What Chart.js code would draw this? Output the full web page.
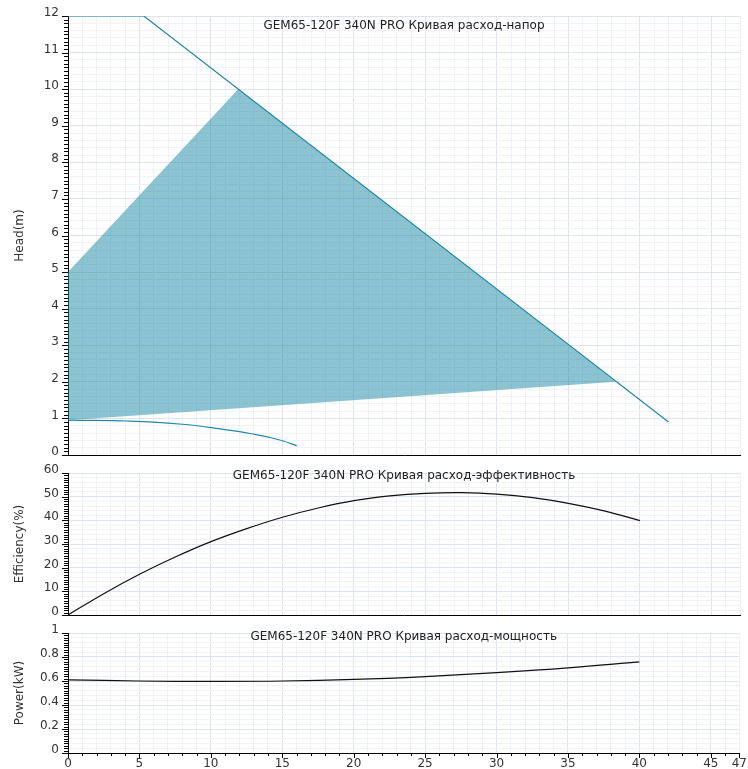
<!DOCTYPE html>
<html>
<head>
<meta charset="utf-8">
<script src="https://cdn.jsdelivr.net/npm/chart.js@4.4.0/dist/chart.umd.min.js"></script>
<style>
  body { margin: 0; background: #fff; }
  #wrap { position: relative; width: 748px; height: 769px; }
  .box { position: absolute; left: 0; width: 748px; }
</style>
</head>
<body>
<div id="wrap">
  <div class="box" style="top:0;height:464px"><canvas id="head"></canvas></div>
  <div class="box" style="top:464px;height:160px"><canvas id="eff"></canvas></div>
  <div class="box" style="top:624px;height:145px"><canvas id="power"></canvas></div>
</div>
<script>
// Titles
const headTitle = 'GEM65-120F 340N PRO Кривая расход-напор';
const effTitle = 'GEM65-120F 340N PRO Кривая расход-эффективность';
const powerTitle = 'GEM65-120F 340N PRO Кривая расход-мощность';

// Head curve (m)
const headFlow = [0, 5.3, 42];
const headValues = [12, 12, 0.9];

// Working area
const areaFlow = [0, 11.9, 38.3, 0, 0];
const areaHead = [5, 10, 2, 0.95, 5];

// Lower curve
const lowFlow = [0, 2, 4, 6, 8, 10, 12, 13, 14, 15, 16];
const lowHead = [0.95, 0.945, 0.93, 0.9, 0.84, 0.75, 0.64, 0.57, 0.49, 0.39, 0.25];

// Efficiency (%)
const effFlow = [0, 2.5, 5, 7.5, 10, 12.5, 15, 17.5, 20, 22.5, 25, 27.5, 30, 32.5, 35, 37.5, 40];
const effValues = [0, 9, 17.2, 24.5, 31, 36.5, 41.3, 45.2, 48.3, 50.3, 51.4, 51.7, 51.1, 49.6, 47.2, 44, 39.9];

// Power (kW)
const powerFlow = [0, 5, 10, 15, 20, 25, 30, 35, 40];
const powerValues = [0.61, 0.6, 0.597, 0.6, 0.613, 0.637, 0.67, 0.71, 0.76];

const teal = '#2089a5';
const font = { family: '"DejaVu Sans", sans-serif', size: 12 };

function pts(xs, ys) {
  return xs.map((x, i) => ({ x: x, y: ys[i] }));
}

function isMult(v, step) {
  const r = v / step;
  return Math.abs(r - Math.round(r)) < 1e-6;
}

const innerTitle = {
  id: 'innerTitle',
  afterDraw(chart, args, opts) {
    const { ctx, chartArea } = chart;
    ctx.save();
    ctx.font = '12px "DejaVu Sans", sans-serif';
    ctx.fillStyle = '#222';
    ctx.textAlign = 'center';
    ctx.textBaseline = 'middle';
    ctx.fillText(opts.text, (chartArea.left + chartArea.right) / 2, chartArea.top + opts.offset);
    ctx.restore();
  }
};

// small tick marks on the axes
const axisTicks = {
  id: 'axisTicks',
  afterDraw(chart, args, opts) {
    const { ctx } = chart;
    const y = chart.scales.y;
    ctx.save();
    ctx.strokeStyle = '#000';
    ctx.lineWidth = 1;
    const n = Math.round((y.max - y.min) / opts.yStep);
    for (let i = 0; i <= n; i++) {
      const p = Math.round(y.getPixelForValue(y.min + i * opts.yStep)) + 0.5;
      const len = i % opts.yMajor === 0 ? 6 : 4;
      ctx.beginPath();
      ctx.moveTo(y.right - len, p);
      ctx.lineTo(y.right, p);
      ctx.stroke();
    }
    if (opts.xTicks) {
      const x = chart.scales.x;
      for (let v = x.min; v <= x.max; v++) {
        const p = Math.round(x.getPixelForValue(v)) + 0.5;
        const len = v % 5 === 0 || v === x.max ? 5 : 3;
        ctx.beginPath();
        ctx.moveTo(p, x.top);
        ctx.lineTo(p, x.top + len);
        ctx.stroke();
      }
    }
    ctx.restore();
  }
};

function xScale(showLabels, height) {
  return {
    type: 'linear',
    min: 0,
    max: 47,
    afterFit: s => { s.height = height; },
    border: { color: '#000', width: 1 },
    grid: {
      drawTicks: true,
      tickLength: 3,
      tickColor: 'rgba(0,0,0,0)',
      color: c => isMult(c.tick.value, 5) ? '#dfe3ee' : '#f0f2f8'
    },
    ticks: {
      display: showLabels,
      stepSize: 1,
      autoSkip: false,
      maxRotation: 0,
      padding: 1,
      color: '#333',
      font: font,
      callback: v => (isMult(v, 5) || v === 47) ? String(v) : ''
    }
  };
}

function yScale(title, max, gridStep, labelStep) {
  return {
    type: 'linear',
    min: 0,
    max: max,
    afterFit: s => { s.width = 68; },
    border: { color: '#000', width: 1 },
    grid: {
      drawTicks: true,
      tickLength: 8,
      tickColor: 'rgba(0,0,0,0)',
      color: c => isMult(c.tick.value, labelStep) ? '#dfe3ee' : '#f0f2f8'
    },
    ticks: {
      stepSize: gridStep,
      autoSkip: false,
      padding: 1,
      labelOffset: -3,
      color: '#333',
      font: font,
      callback: v => isMult(v, labelStep) ? String(Math.round(v * 100) / 100) : ''
    },
    title: {
      display: true,
      text: title,
      color: '#333',
      font: font,
      padding: { top: 13, bottom: 0 }
    }
  };
}

function baseOptions(padTop, plugins) {
  return {
    responsive: true,
    maintainAspectRatio: false,
    animation: false,
    layout: { padding: { top: padTop, right: 8, left: 0, bottom: 0 } },
    elements: { point: { radius: 0 }, line: { tension: 0.4 } },
    plugins: Object.assign({
      legend: { display: false },
      tooltip: { enabled: false }
    }, plugins)
  };
}

const headOpts = baseOptions(16, {
  innerTitle: { text: headTitle, offset: 10 },
  axisTicks: { yStep: 0.1, yMajor: 10 }
});
headOpts.scales = { x: xScale(false, 9), y: yScale('Head(m)', 12, 0.2, 1) };

new Chart(document.getElementById('head'), {
  type: 'line',
  data: {
    datasets: [
      { data: pts(headFlow, headValues), borderColor: teal, borderWidth: 1.2, tension: 0, fill: false },
      { data: pts(lowFlow, lowHead), borderColor: teal, borderWidth: 1.2, fill: false },
      { data: pts(areaFlow, areaHead), borderWidth: 0, tension: 0, borderColor: 'rgba(0,0,0,0)', backgroundColor: 'rgba(35,140,165,0.52)', fill: 'shape' }
    ]
  },
  options: headOpts,
  plugins: [innerTitle, axisTicks]
});

const effOpts = baseOptions(9, {
  innerTitle: { text: effTitle, offset: 3 },
  axisTicks: { yStep: 1, yMajor: 10 }
});
effOpts.scales = { x: xScale(false, 9), y: yScale('Efficiency(%)', 60, 2, 10) };

new Chart(document.getElementById('eff'), {
  type: 'line',
  data: {
    datasets: [
      { data: pts(effFlow, effValues), borderColor: '#111', borderWidth: 1.2, fill: false }
    ]
  },
  options: effOpts,
  plugins: [innerTitle, axisTicks]
});

const powerOpts = baseOptions(9, {
  innerTitle: { text: powerTitle, offset: 4 },
  axisTicks: { yStep: 0.02, yMajor: 10, xTicks: true }
});
powerOpts.scales = { x: xScale(true, 16), y: yScale('Power(kW)', 1, 0.04, 0.2) };

new Chart(document.getElementById('power'), {
  type: 'line',
  data: {
    datasets: [
      { data: pts(powerFlow, powerValues), borderColor: '#111', borderWidth: 1.2, fill: false }
    ]
  },
  options: powerOpts,
  plugins: [innerTitle, axisTicks]
});
</script>
</body>
</html>
